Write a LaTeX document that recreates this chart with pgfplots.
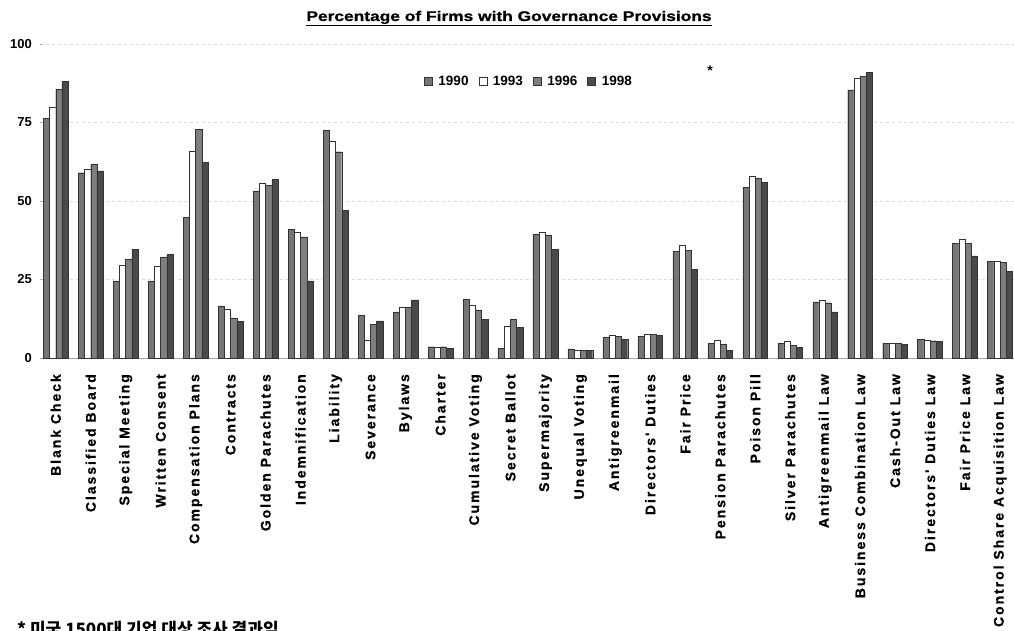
\documentclass[border=0pt]{standalone}
\usepackage{fontspec}
\setmainfont{Liberation Sans}
\newfontfamily\lblfont[LetterSpace=14,FakeBold=0.6]{Liberation Sans}
\newfontfamily\ttlfont[FakeBold=0.8]{Liberation Sans}
\newfontfamily\kr{Noto Sans CJK KR}
\usepackage{graphicx}
\usepackage{pgfplots}
\usepackage{pgfplotstable}
\pgfplotsset{compat=1.18}
\definecolor{cA}{HTML}{767676}
\definecolor{cB}{HTML}{FFFFFF}
\definecolor{cC}{HTML}{7E7E7E}
\definecolor{cD}{HTML}{4A4A4A}
\definecolor{edge}{HTML}{333333}

\pgfplotstableread{
x a b c d
0 76.3 80.0 85.6 88.0
1 59.0 60.2 61.7 59.6
2 24.6 29.6 31.6 34.5
3 24.6 29.3 32.2 32.9
4 44.7 65.9 72.8 62.3
5 16.6 15.4 12.8 11.6
6 53.2 55.6 55.0 56.8
7 41.0 40.0 38.6 24.6
8 72.4 69.1 65.7 47.1
9 13.5 5.7 10.7 11.8
10 14.7 16.3 16.3 18.5
11 3.6 3.6 3.6 3.1
12 18.7 16.9 15.3 12.4
13 3.1 10.0 12.4 9.7
14 39.4 40.2 39.0 34.6
15 2.9 2.5 2.5 2.5
16 6.6 7.3 7.0 6.0
17 7.0 7.6 7.6 7.3
18 33.9 35.8 34.2 28.2
19 4.7 5.7 4.5 2.5
20 54.4 58.0 57.2 56.0
21 4.7 5.4 4.1 3.3
22 17.9 18.5 17.6 14.7
23 85.4 89.1 89.8 90.9
24 4.7 4.7 4.7 4.4
25 5.9 5.7 5.5 5.2
26 36.5 37.8 36.5 32.5
27 30.7 30.7 30.5 27.5
}\data

\begin{document}
\begin{tikzpicture}
\useasboundingbox (0pt,0pt) rectangle (1014pt,630pt);
\begin{axis}[
  at={(40pt,272pt)}, anchor=south west,
  scale only axis, width=974pt, height=314pt,
  xmin=-0.45, xmax=27.4, ymin=0, ymax=100,
  ybar=0pt, bar width=6.2pt,
  axis x line*=bottom, axis y line*=left,
  x axis line style={-, draw=gray!70},
  y axis line style={draw=none},
  xtick=data,
  xticklabels={Blank Check, Classified Board, Special Meeting, Written Consent, Compensation Plans, Contracts, Golden Parachutes, Indemnification, Liability, Severance, Bylaws, Charter, Cumulative Voting, Secret Ballot, Supermajority, Unequal Voting, Antigreenmail, Directors' Duties, Fair Price, Pension Parachutes, Poison Pill, Silver Parachutes, Antigreenmail Law, Business Combination Law, Cash-Out Law, Directors' Duties Law, Fair Price Law, Control Share Acquisition Law},
  xticklabel style={rotate=90, anchor=east, inner sep=0pt,
    font=\lblfont\bfseries\fontsize{14}{16}\selectfont},
  xticklabel shift=13pt,
  xtick style={draw=none},
  ytick={0,25,50,75,100},
  ytick style={draw=gray!60},
  major tick length=3pt,
  yticklabel style={inner sep=0pt, xshift=-8pt, font=\bfseries\fontsize{13}{15}\selectfont},
  /pgf/number format/assume math mode=true,
  ymajorgrids, grid style={dashed, gray!28},
  legend style={at={(0.502,0.882)}, anchor=center, draw=none, fill=none,
    font=\bfseries\fontsize{13.5}{15}\selectfont, inner sep=0pt,
    /tikz/every odd column/.append style={column sep=4pt},
    /tikz/every even column/.append style={column sep=8pt}},
  legend columns=4,
  legend image code/.code={\draw[#1] (0pt,-4pt) rectangle (8pt,4pt);},
]
\addplot[fill=cA, draw=edge] table[x=x, y=a] {\data};
\addplot[fill=cB, draw=edge] table[x=x, y=b] {\data};
\addplot[fill=cC, draw=edge] table[x=x, y=c] {\data};
\addplot[fill=cD, draw=edge] table[x=x, y=d] {\data};
\legend{1990, 1993, 1996, 1998}
\end{axis}
\node[anchor=base] at (509pt,609pt) {\scalebox{1.24}[1]{\ttlfont\bfseries\fontsize{14}{16}\selectfont\underline{Percentage of Firms with Governance Provisions}}};
\node[anchor=center] at (710pt,559pt) {\bfseries\fontsize{14}{16}\selectfont *};
\node[anchor=base west, inner sep=0pt] at (17pt,-5pt) {\kr\bfseries\fontsize{17}{20}\selectfont * 미국 1500대 기업 대상 조사 결과임};
\end{tikzpicture}
\end{document}
